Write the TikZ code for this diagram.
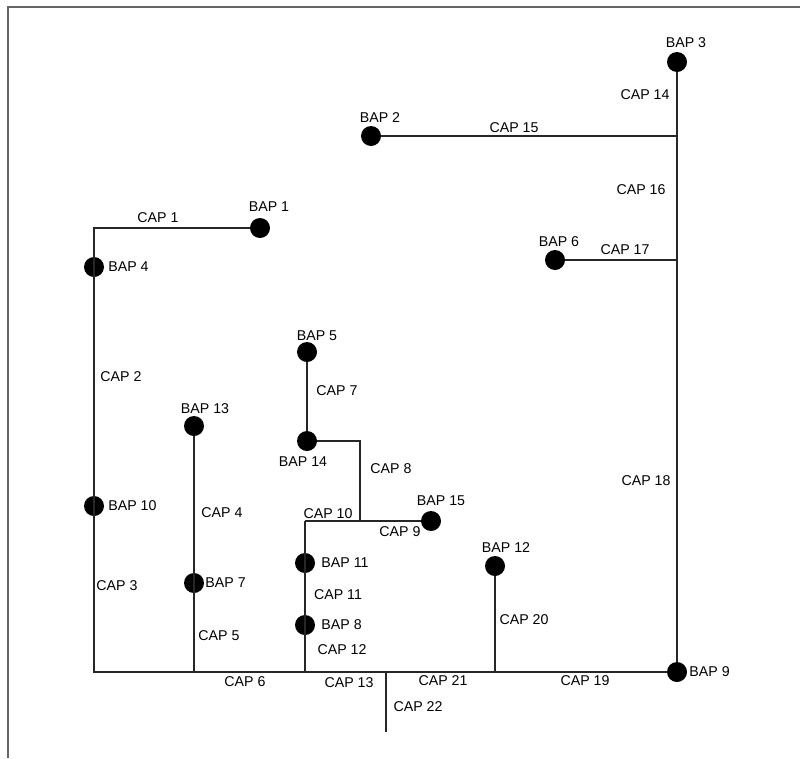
\documentclass[tikz,border=0pt]{standalone}
\usepackage{fontspec}
\setmainfont{Liberation Sans}
\usetikzlibrary{positioning}
\tikzset{
    bap/.style={
        circle,
        fill=black,
        minimum size=20pt,
        inner sep=0pt
    },
    lbl/.style={font=\fontsize{14.2}{16}\selectfont, inner sep=0pt},
    wire/.style={line width=1.5pt, draw=black!85}
}

\begin{document}
\begin{tikzpicture}[x=1pt, y=-1pt]
\useasboundingbox (0,0) rectangle (800,758);
\draw[line width=2pt, black!60] (8,758) -- (8,7) -- (800,7);

% access points
\node[bap] (b1) at (260,228) {};
\node[bap] (b2) at (371,136) {};
\node[bap] (b3) at (677,62) {};
\node[bap] (b4) at (94,267) {};
\node[bap] (b5) at (307,352) {};
\node[bap] (b6) at (555,260) {};
\node[bap] (b7) at (194,583) {};
\node[bap] (b8) at (305,625) {};
\node[bap] (b9) at (677,672) {};
\node[bap] (b10) at (94,506) {};
\node[bap] (b11) at (305,563) {};
\node[bap] (b12) at (495,566) {};
\node[bap] (b13) at (194,426) {};
\node[bap] (b14) at (307,441) {};
\node[bap] (b15) at (431,521) {};

% corners and junctions
\coordinate (c1) at (94,228);
\coordinate (c6) at (94,672);
\coordinate (j6) at (194,672);
\coordinate (j15) at (677,136);
\coordinate (j17) at (677,260);
\coordinate (c8a) at (360,441);
\coordinate (c8b) at (360,521);
\coordinate (j10) at (305,521);
\coordinate (j13) at (305,672);
\coordinate (j22) at (386,672);
\coordinate (e22) at (386,732);
\coordinate (j20) at (495,672);

% cables
\draw[wire] (b3) -- (b9);
\draw[wire] (b2) -- (j15);
\draw[wire] (b6) -- (j17);
\draw[wire] (b1) -- (c1) -- (c6) -- (b9);
\draw[wire] (b13) -- (j6);
\draw[wire] (b5) -- (b14);
\draw[wire] (b14) -- (c8a) -- (c8b);
\draw[wire] (j10) -- (b15);
\draw[wire] (j10) -- (j13);
\draw[wire] (j22) -- (e22);
\draw[wire] (b12) -- (j20);

% BAP labels
\node[lbl] (lb1) at (269,207) {BAP 1};
\node[lbl] (lb2) at (380,118) {BAP 2};
\node[lbl] (lb3) at (686,43) {BAP 3};
\node[lbl, right=4pt of b4] (lb4) {BAP 4};
\node[lbl] (lb5) at (317,336) {BAP 5};
\node[lbl] (lb6) at (559,242) {BAP 6};
\node[lbl, right=1pt of b7] (lb7) {BAP 7};
\node[lbl, right=6pt of b8] (lb8) {BAP 8};
\node[lbl, right=2pt of b9] (lb9) {BAP 9};
\node[lbl, right=4pt of b10] (lb10) {BAP 10};
\node[lbl, right=6pt of b11] (lb11) {BAP 11};
\node[lbl] (lb12) at (506,548) {BAP 12};
\node[lbl] (lb13) at (205,409) {BAP 13};
\node[lbl] (lb14) at (303,462) {BAP 14};
\node[lbl] (lb15) at (441,501) {BAP 15};

% CAP labels
\node[lbl] (l1) at (158,218) {CAP 1};
\node[lbl] (l2) at (121,377) {CAP 2};
\node[lbl] (l3) at (117,586) {CAP 3};
\node[lbl] (l4) at (222,513) {CAP 4};
\node[lbl] (l5) at (219,636) {CAP 5};
\node[lbl] (l6) at (245,682) {CAP 6};
\node[lbl] (l7) at (337,391) {CAP 7};
\node[lbl] (l8) at (391,469) {CAP 8};
\node[lbl] (l9) at (400,532) {CAP 9};
\node[lbl] (l10) at (328,514) {CAP 10};
\node[lbl] (l11) at (338,595) {CAP 11};
\node[lbl] (l12) at (342,650) {CAP 12};
\node[lbl] (l13) at (349,683) {CAP 13};
\node[lbl] (l14) at (645,95) {CAP 14};
\node[lbl] (l15) at (514,128) {CAP 15};
\node[lbl] (l16) at (641,190) {CAP 16};
\node[lbl] (l17) at (625,250) {CAP 17};
\node[lbl] (l18) at (646,481) {CAP 18};
\node[lbl] (l19) at (585,681) {CAP 19};
\node[lbl] (l20) at (524,620) {CAP 20};
\node[lbl] (l21) at (443,681) {CAP 21};
\node[lbl] (l22) at (418,707) {CAP 22};

\end{tikzpicture}
\end{document}
